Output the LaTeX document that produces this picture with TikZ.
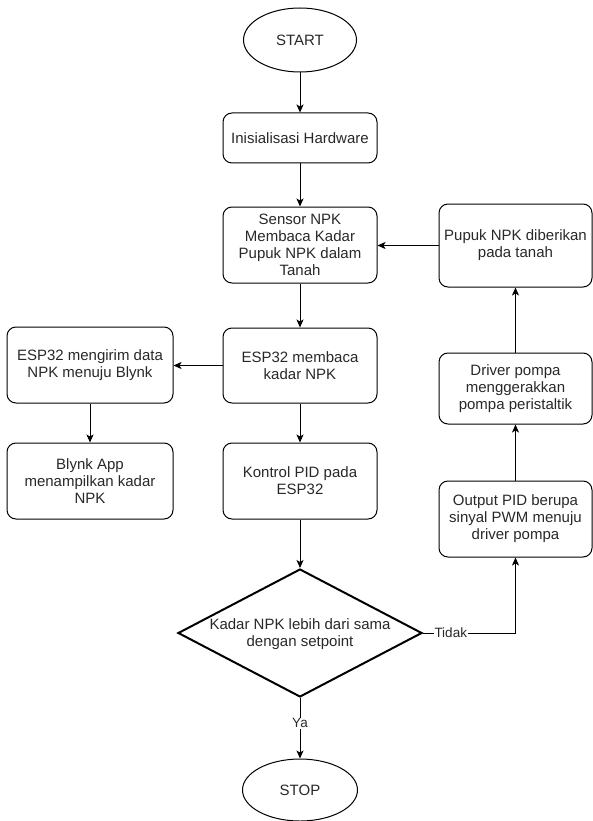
\documentclass[tikz,border=0pt]{standalone}
\usepackage{fontspec}
\setmainfont{Liberation Sans}
\usetikzlibrary{shapes.geometric,arrows.meta}
\definecolor{txt}{RGB}{40,40,40}
\begin{document}
\begin{tikzpicture}[x=1pt,y=-1pt,
  box/.style={draw=black, line width=1pt, rounded corners=9pt, inner sep=0pt,
    align=center, text=txt, font=\fontsize{15}{17}\selectfont},
  term/.style={draw=black, line width=1pt, ellipse, inner sep=0pt,
    align=center, text=txt, font=\fontsize{15}{17}\selectfont},
  decision/.style={draw=black, line width=2pt, diamond, inner sep=0pt,
    minimum width=244pt, minimum height=128pt},
  dtext/.style={align=center, text=txt, font=\fontsize{15}{17}\selectfont, inner sep=0pt},
  conn/.style={draw=black, line width=1pt, -{Stealth[length=8pt,width=7pt,inset=2pt]}},
  lbl/.style={fill=white, text=txt, inner sep=1pt, font=\fontsize{13.5}{15}\selectfont}
]
\useasboundingbox (0,0) rectangle (593,821);

\node[term, minimum width=113pt, minimum height=64pt] (start) at (300,40) {START};
\node[box, minimum width=154pt, minimum height=50pt] (init) at (300,138) {Inisialisasi Hardware};
\node[box, minimum width=154pt, minimum height=76pt] (sensor) at (300,245) {Sensor NPK\\Membaca Kadar\\Pupuk NPK dalam\\Tanah};
\node[box, minimum width=153pt, minimum height=83pt] (pupuk) at (515.5,245.5) {Pupuk NPK diberikan\\pada tanah};
\node[box, minimum width=154pt, minimum height=75pt] (baca) at (300,365.5) {ESP32 membaca\\kadar NPK};
\node[box, minimum width=166pt, minimum height=76pt] (kirim) at (90,365) {ESP32 mengirim data\\NPK menuju Blynk};
\node[box, minimum width=166pt, minimum height=76pt] (blynk) at (90,481) {Blynk App\\menampilkan kadar\\NPK};
\node[box, minimum width=154pt, minimum height=76pt] (pid) at (300,481) {Kontrol PID pada\\ESP32};
\node[box, minimum width=153pt, minimum height=71pt] (driver) at (515.5,388.5) {Driver pompa\\menggerakkan\\pompa peristaltik};
\node[box, minimum width=153pt, minimum height=76pt] (output) at (515.5,519) {Output PID berupa\\sinyal PWM menuju\\driver pompa};
\node[decision] (dec) at (300,633) {};
\node[dtext] (dect) at (300,634) {Kadar NPK lebih dari sama\\dengan setpoint};
\node[term, minimum width=115pt, minimum height=62pt] (stop) at (300,790) {STOP};

\draw[conn] (start) -- (init);
\draw[conn] (init) -- (sensor);
\draw[conn] (pupuk.west) -- (pupuk.west -| sensor.east);
\draw[conn] (sensor) -- (baca);
\draw[conn] (baca.west) -- (baca.west -| kirim.east);
\draw[conn] (kirim) -- (blynk);
\draw[conn] (baca) -- (pid);
\draw[conn] (pid) -- (dec.north);
\draw[conn] (dec.east) -| node[lbl, pos=0.15] {Tidak} (output.south);
\draw[conn] (dec.south) -- node[lbl, pos=0.42] {Ya} (stop.north);
\draw[conn] (output) -- (driver);
\draw[conn] (driver) -- (pupuk);
\end{tikzpicture}
\end{document}
